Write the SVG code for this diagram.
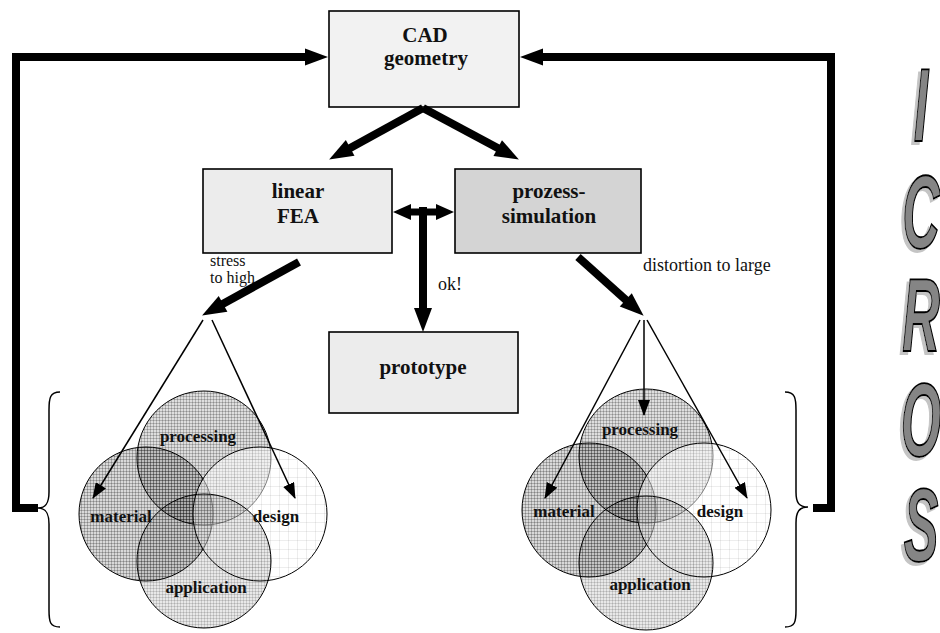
<svg xmlns="http://www.w3.org/2000/svg" width="940" height="633" viewBox="0 0 940 633">
<style>
.box{stroke:#000;stroke-width:1.6}
.bt{font-family:"Liberation Serif","Times New Roman",serif;font-weight:bold;font-size:21px;text-anchor:middle;fill:#111}
.lt{font-family:"Liberation Serif","Times New Roman",serif;font-size:18px;fill:#111}
.st{font-family:"Liberation Serif","Times New Roman",serif;font-size:16px;fill:#111}
.ct{font-family:"Liberation Serif","Times New Roman",serif;font-weight:bold;font-size:17px;text-anchor:middle;fill:#111}
.thick{fill:none;stroke:#000;stroke-width:8}
.thin{fill:none;stroke:#000;stroke-width:1.5}
.circ{stroke:#000;stroke-width:1}
.brace{fill:none;stroke:#000;stroke-width:1.5}
.big{font-family:"Liberation Sans",Arial,sans-serif;font-weight:bold;font-style:italic;font-size:104px;text-anchor:middle;fill:#858585;stroke:#000;stroke-width:1.5;vector-effect:non-scaling-stroke}
</style>
<defs>
<marker id="hb" markerUnits="userSpaceOnUse" markerWidth="24" markerHeight="18" refX="0" refY="9" orient="auto" overflow="visible"><path d="M-1,0 L23,9 L-1,18 Z" fill="#000"/></marker>
<marker id="ht" markerUnits="userSpaceOnUse" markerWidth="16" markerHeight="12" refX="15" refY="6" orient="auto"><path d="M0,0 L16,6 L0,12 Z" fill="#000"/></marker>
<pattern id="pM" width="3" height="3" patternUnits="userSpaceOnUse"><rect width="3" height="3" fill="#000" fill-opacity="0.15"/><path d="M0,0.5H3M0.5,0V3" stroke="#000" stroke-opacity="0.22" stroke-width="1"/></pattern>
<pattern id="pP" width="3" height="3" patternUnits="userSpaceOnUse"><rect width="3" height="3" fill="#000" fill-opacity="0.13"/><path d="M0,0.5H3M0.5,0V3" stroke="#000" stroke-opacity="0.2" stroke-width="1"/></pattern>
<pattern id="pD" width="9" height="9" patternUnits="userSpaceOnUse"><rect width="9" height="9" fill="#fff" fill-opacity="0.5"/><path d="M0,0.5H9M0.5,0V9" stroke="#000" stroke-opacity="0.07" stroke-width="1"/></pattern>
<pattern id="pA" width="3" height="3" patternUnits="userSpaceOnUse"><rect width="3" height="3" fill="#000" fill-opacity="0.09"/><path d="M0,0.5H3M0.5,0V3" stroke="#000" stroke-opacity="0.13" stroke-width="1"/></pattern>
<filter id="sh" x="-50%" y="-20%" width="200%" height="140%"><feOffset in="SourceAlpha" dx="-3" dy="3" result="o"/><feFlood flood-color="#c4c4c4"/><feComposite in2="o" operator="in" result="s"/><feMerge><feMergeNode in="s"/><feMergeNode in="SourceGraphic"/></feMerge></filter>
</defs>

<g id="cad">
<rect class="box" x="329" y="11" width="190" height="96" fill="#f2f2f2"/>
<text class="bt" x="425" y="42">CAD</text>
<text class="bt" x="426" y="65">geometry</text>
</g>
<g id="linear-fea">
<rect class="box" x="203" y="169" width="189" height="84" fill="#ececec"/>
<text class="bt" x="298" y="198">linear</text>
<text class="bt" x="298" y="223">FEA</text>
</g>
<g id="prozess">
<rect class="box" x="455" y="169" width="186" height="84" fill="#d4d4d4"/>
<text class="bt" x="549" y="198">prozess-</text>
<text class="bt" x="549" y="223">simulation</text>
</g>
<g id="prototype">
<rect class="box" x="329" y="332" width="189" height="81" fill="#ececec"/>
<text class="bt" x="423" y="374">prototype</text>
</g>

<g id="venn-left">
<circle class="circ" cx="146" cy="514" r="67" fill="url(#pM)"/>
<circle class="circ" cx="204" cy="458" r="67" fill="url(#pP)"/>
<circle class="circ" cx="260" cy="514" r="67" fill="url(#pD)"/>
<circle class="circ" cx="204" cy="561" r="67" fill="url(#pA)"/>
</g>
<g id="venn-right">
<circle class="circ" cx="589" cy="510" r="67" fill="url(#pM)"/>
<circle class="circ" cx="646" cy="456" r="67" fill="url(#pP)"/>
<circle class="circ" cx="704" cy="510" r="67" fill="url(#pD)"/>
<circle class="circ" cx="646" cy="563" r="67" fill="url(#pA)"/>
</g>

<g id="connectors">
<line class="thick" x1="423" y1="108" x2="349.3" y2="148.4" marker-end="url(#hb)"/>
<line class="thick" x1="423" y1="108" x2="498.6" y2="148.6" marker-end="url(#hb)"/>
<line class="thick" x1="299" y1="262" x2="222.2" y2="304.3" marker-end="url(#hb)"/>
<line class="thick" x1="578" y1="257" x2="626.5" y2="300.5" marker-end="url(#hb)"/>
<line class="thick" x1="423" y1="207" x2="423" y2="309" marker-end="url(#hb)"/>
<line x1="410" y1="212" x2="437" y2="212" stroke="#000" stroke-width="7"/>
<path d="M393,212 L411,204 L411,220 Z" fill="#000"/>
<path d="M454,212 L436,204 L436,220 Z" fill="#000"/>
<path class="thick" d="M38,508 H16 V57 H306"/>
<path d="M328,57 L305,48.5 L305,65.5 Z" fill="#000"/>
<path class="thick" d="M813,508 H831 V57 H541"/>
<path d="M520,57 L543,48.5 L543,65.5 Z" fill="#000"/>
<line class="thin" x1="203" y1="320" x2="93" y2="498" marker-end="url(#ht)"/>
<line class="thin" x1="212" y1="320" x2="295" y2="498" marker-end="url(#ht)"/>
<line class="thin" x1="640" y1="320" x2="545" y2="498" marker-end="url(#ht)"/>
<line class="thin" x1="644" y1="320" x2="644" y2="415" marker-end="url(#ht)"/>
<line class="thin" x1="647" y1="320" x2="747" y2="498" marker-end="url(#ht)"/>
</g>

<g id="labels">
<text class="ct" x="198" y="442">processing</text>
<text class="ct" x="121" y="522">material</text>
<text class="ct" x="276" y="522">design</text>
<text class="ct" x="206" y="593">application</text>
<text class="ct" x="640" y="435">processing</text>
<text class="ct" x="564" y="517">material</text>
<text class="ct" x="720" y="517">design</text>
<text class="ct" x="650" y="590">application</text>
<text class="st" x="210" y="266">stress</text>
<text class="st" x="210" y="283">to high</text>
<text class="lt" x="438" y="290">ok!</text>
<text class="lt" x="643" y="271">distortion to large</text>
</g>

<g id="braces">
<path class="brace" d="M60,392 C50,392 49,398 49,410 L49,492 C49,503 46,508 38,508 C46,508 49,513 49,524 L49,610 C49,622 50,627 60,627"/>
<path class="brace" d="M785,392 C795,392 796,398 796,410 L796,492 C796,503 799,507 808,507 C799,507 796,512 796,523 L796,610 C796,622 795,627 785,627"/>
</g>

<g id="icros" filter="url(#sh)">
<text class="big" transform="translate(921,141) scale(0.5,1)">I</text>
<text class="big" transform="translate(921,248) scale(0.5,1)">C</text>
<text class="big" transform="translate(921,351) scale(0.5,1)">R</text>
<text class="big" transform="translate(921,456) scale(0.5,1)">O</text>
<text class="big" transform="translate(921,561) scale(0.5,1)">S</text>
</g>
</svg>
